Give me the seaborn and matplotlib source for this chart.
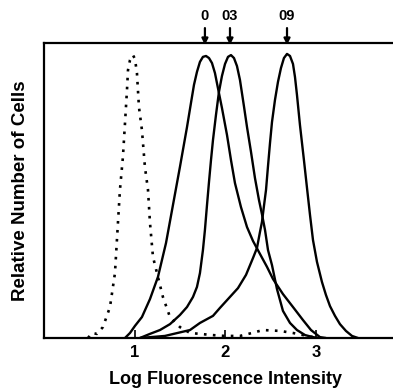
import numpy as np
import matplotlib
matplotlib.use("Agg")
import matplotlib.pyplot as plt
import seaborn as sns

# dotted control histogram
ctrl_x = [0.481, 0.525, 0.580, 0.646, 0.724, 0.779, 0.812, 0.834, 0.867, 0.890, 0.912, 0.923, 0.945,
          0.967, 0.978, 1.000, 1.022, 1.044, 1.077, 1.110, 1.144, 1.166, 1.199, 1.254, 1.309, 1.387,
          1.497, 1.608, 1.718, 1.851, 1.994, 2.160, 2.293, 2.414, 2.602, 2.746, 2.967]
ctrl_y = [0.000, 0.017, 0.014, 0.037, 0.105, 0.220, 0.390, 0.502, 0.614, 0.729, 0.841, 0.908, 0.942,
          0.956, 0.959, 0.946, 0.898, 0.783, 0.705, 0.580, 0.502, 0.390, 0.275, 0.207, 0.139, 0.071,
          0.037, 0.017, 0.014, 0.010, 0.007, 0.007, 0.017, 0.027, 0.024, 0.017, 0.003]

# solid histograms (0, 03, 09)
a_x = [0.890, 0.945, 1.000, 1.077, 1.166, 1.254, 1.343, 1.420, 1.497, 1.575, 1.619, 1.652, 1.685,
       1.718, 1.751, 1.785, 1.818, 1.851, 1.884, 1.917, 1.961, 2.017, 2.061, 2.105, 2.171, 2.238,
       2.304, 2.381, 2.459, 2.525, 2.635, 2.746, 2.856, 2.945, 3.044, 3.110]
a_y = [0.000, 0.017, 0.041, 0.071, 0.132, 0.207, 0.322, 0.451, 0.580, 0.715, 0.797, 0.858, 0.902,
       0.936, 0.953, 0.956, 0.949, 0.932, 0.898, 0.847, 0.780, 0.688, 0.603, 0.525, 0.444, 0.376,
       0.329, 0.285, 0.241, 0.200, 0.149, 0.105, 0.061, 0.027, 0.003, 0.000]

b_x = [1.055, 1.166, 1.276, 1.387, 1.497, 1.575, 1.641, 1.685, 1.718, 1.751, 1.773, 1.796, 1.818,
       1.840, 1.862, 1.895, 1.928, 1.961, 1.995, 2.028, 2.061, 2.094, 2.127, 2.160, 2.204, 2.238,
       2.282, 2.326, 2.370, 2.403, 2.437, 2.470, 2.514, 2.569, 2.635, 2.713, 2.790, 2.879, 2.967, 3.022]
b_y = [0.000, 0.014, 0.027, 0.047, 0.078, 0.105, 0.139, 0.173, 0.220, 0.298, 0.366, 0.451, 0.529,
       0.603, 0.671, 0.756, 0.834, 0.888, 0.929, 0.953, 0.959, 0.949, 0.922, 0.875, 0.786, 0.715,
       0.631, 0.542, 0.468, 0.420, 0.366, 0.298, 0.247, 0.166, 0.092, 0.051, 0.027, 0.010, 0.003, 0.000]

c_x = [1.055, 1.331, 1.608, 1.718, 1.862, 1.939, 2.138, 2.227, 2.304, 2.348, 2.381, 2.403, 2.425,
       2.448, 2.470, 2.492, 2.514, 2.547, 2.580, 2.613, 2.646, 2.680, 2.713, 2.746, 2.768, 2.790,
       2.823, 2.867, 2.901, 2.934, 2.967, 3.011, 3.066, 3.110, 3.155, 3.210, 3.265, 3.331, 3.398, 3.464]
c_y = [0.000, 0.007, 0.027, 0.051, 0.075, 0.102, 0.169, 0.214, 0.271, 0.305, 0.359, 0.393, 0.447,
       0.502, 0.583, 0.661, 0.732, 0.807, 0.868, 0.915, 0.949, 0.963, 0.956, 0.929, 0.885, 0.824,
       0.722, 0.603, 0.508, 0.417, 0.332, 0.258, 0.190, 0.146, 0.108, 0.075, 0.047, 0.024, 0.007, 0.000]

peak_pos = [1.773, 2.050, 2.680]
peak_labels = ["0", "03", "09"]
tick_vals = [1, 2, 3]

sns.set_style("white")
plt.rcParams["font.family"] = ["Liberation Sans", "DejaVu Sans"]
plt.rcParams["font.weight"] = "bold"
plt.rcParams["text.color"] = "black"
plt.rcParams["axes.labelcolor"] = "black"
plt.rcParams["xtick.color"] = "black"

fig = plt.figure(figsize=(3.93, 3.90), dpi=100)
ax = fig.add_axes([44/393, 52/390, 349/393, 295/390])

for xs, ys in [(a_x, a_y), (b_x, b_y), (c_x, c_y)]:
    sns.lineplot(x=xs, y=ys, ax=ax, color="black", lw=1.7, estimator=None, sort=False)
ln = sns.lineplot(x=ctrl_x, y=ctrl_y, ax=ax, color="black", lw=1.9, estimator=None, sort=False)
ln.lines[-1].set_dashes([1, 2.4])
ln.lines[-1].set_dash_capstyle("butt")

ax.set_xlim(-0.005, 3.851)
ax.set_ylim(0, 1)
ax.set_xticks(tick_vals)
ax.set_xticklabels([str(t) for t in tick_vals], fontsize=12, fontweight="bold", color="black")
ax.set_yticks([])
ax.tick_params(axis="x", direction="in", length=6, width=1.2, pad=5, bottom=True, colors="black")
for s in ["left", "top", "bottom"]:
    ax.spines[s].set_linewidth(1.6)
    ax.spines[s].set_color("black")
ax.spines["right"].set_visible(False)

for p, lab in zip(peak_pos, peak_labels):
    ax.annotate("", xy=(p, 0.984), xytext=(p, 1.06), annotation_clip=False,
                arrowprops=dict(arrowstyle="-|>", color="black", lw=1.6, mutation_scale=9))
    ax.text(p, 1.093, lab, ha="center", va="center", fontsize=10.5, fontweight="bold",
            color="black", clip_on=False)

ax.set_xlabel("Log Fluorescence Intensity", fontsize=13, fontweight="bold", color="black")
ax.xaxis.set_label_coords(0.519, -0.112)
ax.set_ylabel("Relative Number of Cells", fontsize=13.5, fontweight="bold", color="black")
ax.yaxis.set_label_coords(-0.043, 0.5)

fig.savefig("out.png", dpi=100)
